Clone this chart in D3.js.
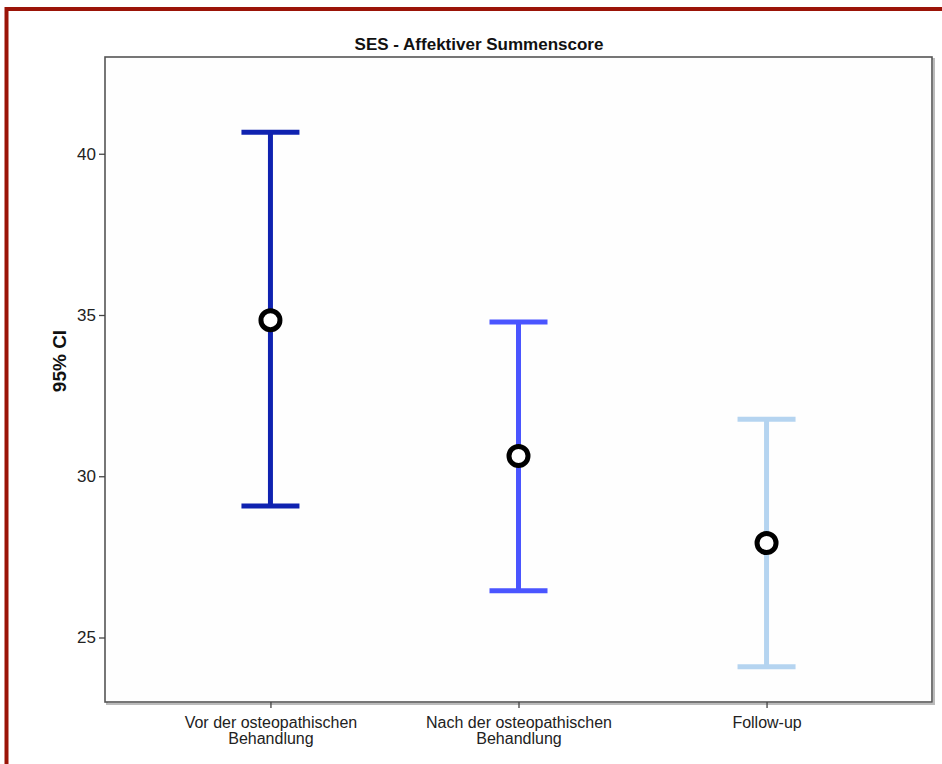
<!DOCTYPE html>
<html>
<head>
<meta charset="utf-8">
<script src="https://cdn.jsdelivr.net/npm/d3@7"></script>
<style>
  body { margin: 0; background: #fff; }
  svg text { font-family: "Liberation Sans", Arial, sans-serif; }
</style>
</head>
<body>
<svg id="chart" width="942" height="764"></svg>
<script>
// values
var groups = [["Vor der osteopathischen", "Behandlung"], ["Nach der osteopathischen", "Behandlung"], ["Follow-up"]];
var means = [34.84, 30.63, 27.93];
var lower = [29.08, 26.45, 24.09];
var upper = [40.67, 34.78, 31.77];
var barColors = ["#0f22b0", "#4a55ff", "#b5d4f0"];
var yTicks = [25, 30, 35, 40];

var svg = d3.select("#chart");

var margins = { top: 57, right: 10, bottom: 62, left: 105 };
var width = 932 - margins.left;
var height = 702 - margins.top;

// red frame round the output
svg.append("line").attr("x1", 6).attr("x2", 942).attr("y1", 9).attr("y2", 9)
    .attr("stroke", "#9b1408").attr("stroke-width", 4);
svg.append("line").attr("x1", 6.5).attr("x2", 6.5).attr("y1", 7).attr("y2", 764)
    .attr("stroke", "#9b1408").attr("stroke-width", 4);

var x = d3.scalePoint()
    .domain(d3.range(groups.length))
    .range([0, width])
    .padding(0.667);

var y = d3.scaleLinear()
    .domain([23, 43])
    .range([height, 0]);

var g = svg.append("g")
    .attr("transform", "translate(" + margins.left + "," + margins.top + ")");

// plot box with light shadow
g.append("rect")
    .attr("x", 2).attr("y", 2)
    .attr("width", width).attr("height", height)
    .attr("fill", "none").attr("stroke", "#bbb").attr("stroke-width", 2);
g.append("rect")
    .attr("width", width).attr("height", height)
    .attr("fill", "#fefefe").attr("stroke", "#555").attr("stroke-width", 1.6);

// y axis
var yAxis = g.append("g")
    .call(d3.axisLeft(y).tickValues(yTicks).tickSize(6).tickPadding(3));
yAxis.select(".domain").remove();
yAxis.selectAll(".tick line").attr("stroke", "#444").attr("stroke-width", 1.3);
yAxis.selectAll("text").style("font-size", "17px").attr("fill", "#222");

// x axis
var xAxis = g.append("g")
    .attr("transform", "translate(0," + height + ")")
    .call(d3.axisBottom(x).tickSize(6).tickFormat(""));
xAxis.select(".domain").remove();
xAxis.selectAll(".tick line").attr("stroke", "#444").attr("stroke-width", 1.3);
xAxis.selectAll(".tick").each(function (i) {
    var t = d3.select(this).append("text")
        .attr("fill", "#222")
        .attr("text-anchor", "middle")
        .style("font-size", "16px");
    groups[i].forEach(function (line, k) {
        t.append("tspan").attr("x", 0).attr("y", 26 + k * 16).text(line);
    });
});

// error bars
var bars = g.selectAll(".bar")
    .data(means)
    .enter().append("g")
    .attr("class", "bar")
    .attr("transform", function (d, i) { return "translate(" + x(i) + ",0)"; });

bars.append("line")
    .attr("y1", function (d, i) { return y(lower[i]); })
    .attr("y2", function (d, i) { return y(upper[i]); })
    .attr("stroke", function (d, i) { return barColors[i]; })
    .attr("stroke-width", 5);

bars.selectAll(".cap")
    .data(function (d, i) { return [{ v: lower[i], i: i }, { v: upper[i], i: i }]; })
    .enter().append("line")
    .attr("class", "cap")
    .attr("x1", -29).attr("x2", 29)
    .attr("y1", function (c) { return y(c.v); })
    .attr("y2", function (c) { return y(c.v); })
    .attr("stroke", function (c) { return barColors[c.i]; })
    .attr("stroke-width", 5);

bars.append("circle")
    .attr("cy", function (d) { return y(d); })
    .attr("r", 9.5)
    .attr("fill", "#fff")
    .attr("stroke", "#000")
    .attr("stroke-width", 5);

// title
svg.append("text")
    .attr("x", 479).attr("y", 50)
    .attr("text-anchor", "middle")
    .style("font-size", "17px")
    .style("font-weight", "700")
    .attr("fill", "#111")
    .text("SES - Affektiver Summenscore");

// y label
svg.append("text")
    .attr("transform", "translate(66," + 361 + ") rotate(-90)")
    .attr("text-anchor", "middle")
    .style("font-size", "19px")
    .style("font-weight", "700")
    .attr("fill", "#111")
    .text("95% CI");
</script>
</body>
</html>
